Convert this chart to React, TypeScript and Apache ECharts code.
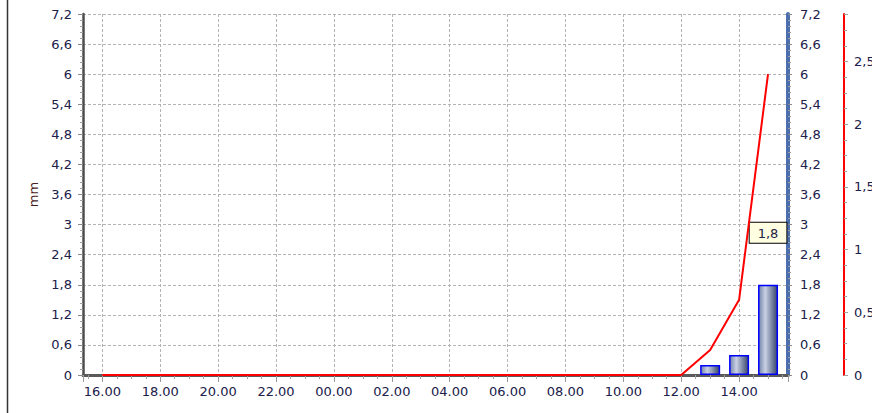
import React, { useEffect, useRef } from "react";
import * as echarts from "echarts";

const hourLabels = [
  "16.00", "17.00", "18.00", "19.00", "20.00", "21.00", "22.00", "23.00",
  "00.00", "01.00", "02.00", "03.00", "04.00", "05.00", "06.00", "07.00",
  "08.00", "09.00", "10.00", "11.00", "12.00", "13.00", "14.00", "15.00",
];
const rainHourly = [0, 0, 0, 0, 0, 0, 0, 0, 0, 0, 0, 0, 0, 0, 0, 0, 0, 0, 0, 0, 0, 0.2, 0.4, 1.8];
const rainCumulative = [0, 0, 0, 0, 0, 0, 0, 0, 0, 0, 0, 0, 0, 0, 0, 0, 0, 0, 0, 0, 0, 0.2, 0.6, 2.4];
const calloutIndex = 23;

const fmtComma = (v: number) => {
  const r = Math.round(v * 100) / 100;
  return String(r).replace(".", ",");
};

const labelColor = "#20204a";
const font = "DejaVu Sans";

export default function App() {
  const ref = useRef<HTMLDivElement>(null);
  useEffect(() => {
    if (!ref.current) return;
    const chart = echarts.init(ref.current, undefined, { renderer: "svg", width: 872, height: 413 });

    const barData = rainHourly
      .map((v, i) => ({ v, i }))
      .filter((d) => d.v > 0)
      .map((d) => ({
        value: [d.i, d.v],
        label:
          d.i === calloutIndex
            ? {
                show: true,
                position: "top",
                distance: 42,
                formatter: () => fmtComma(rainHourly[calloutIndex]),
                backgroundColor: "#ffffe1",
                borderColor: "#000000",
                borderWidth: 1,
                padding: [4, 8, 3, 8],
                color: "#222244",
                fontFamily: font,
                fontSize: 13,
              }
            : { show: false },
      }));

    const lineData = rainCumulative.map((v, i) => [i, v]);

    const splitLine = {
      show: true,
      lineStyle: { color: "#b4b4b4", type: [3, 2], width: 1 },
    };

    chart.setOption({
      animation: false,
      backgroundColor: "#ffffff",
      grid: { left: 83, right: 84, top: 14, bottom: 38, containLabel: false, outerBoundsMode: "none" },
      graphic: [
        {
          type: "line",
          shape: { x1: 7.5, y1: 0, x2: 7.5, y2: 413 },
          style: { stroke: "#333333", lineWidth: 1.5 },
          silent: true,
        },
      ],
      xAxis: {
        type: "value",
        min: -0.67,
        max: 23.69,
        splitNumber: 12,
        axisLine: { show: true, onZero: false, lineStyle: { color: "#5a5a5a", width: 3 } },
        axisTick: { show: true, length: 7, lineStyle: { color: "#9a9a9a" } },
        minorTick: { show: true, splitNumber: 4, length: 4, lineStyle: { color: "#a0a0a0" } },
        axisLabel: {
          showMinLabel: false,
          showMaxLabel: false,
          margin: 10,
          color: labelColor,
          fontFamily: font,
          fontSize: 13,
          formatter: (v: number) => {
            const idx = Math.round(v);
            return Math.abs(v - idx) < 1e-6 ? hourLabels[idx] ?? "" : "";
          },
        },
        splitLine,
      },
      yAxis: [
        {
          type: "value",
          position: "left",
          min: 0,
          max: 7.2,
          interval: 0.6,
          name: "mm",
          nameLocation: "middle",
          nameGap: 43,
          nameRotate: 90,
          nameTextStyle: { color: "#4a1c1c", fontFamily: font, fontSize: 13 },
          axisLine: { show: true, onZero: false, lineStyle: { color: "#4d4d4d", width: 2.5 } },
          axisTick: { show: true, length: 5, lineStyle: { color: "#8a8a8a" } },
          minorTick: { show: true, splitNumber: 5, length: 3, lineStyle: { color: "#a0a0a0" } },
          axisLabel: {
            margin: 11,
            color: labelColor,
            fontFamily: font,
            fontSize: 13,
            formatter: (v: number) => fmtComma(v),
          },
          splitLine,
        },
        {
          type: "value",
          position: "right",
          min: 0,
          max: 7.2,
          interval: 0.6,
          axisLine: { show: true, onZero: false, lineStyle: { color: "#4b6fae", width: 4 } },
          axisTick: { show: true, length: 4, lineStyle: { color: "#8a8a8a" } },
          minorTick: { show: true, splitNumber: 5, length: 3, lineStyle: { color: "#a0a0a0" } },
          axisLabel: {
            margin: 12,
            color: labelColor,
            fontFamily: font,
            fontSize: 13,
            formatter: (v: number) => fmtComma(v),
          },
          splitLine: { show: false },
        },
        {
          type: "value",
          position: "right",
          offset: 56,
          min: 0,
          max: 2.88,
          interval: 0.5,
          axisLine: { show: true, onZero: false, lineStyle: { color: "#ff0000", width: 2 } },
          axisTick: { show: true, length: 4, lineStyle: { color: "#a0a0a0" } },
          minorTick: { show: true, splitNumber: 4, length: 3, lineStyle: { color: "#a0a0a0" } },
          axisLabel: {
            margin: 10,
            showMaxLabel: false,
            color: labelColor,
            fontFamily: font,
            fontSize: 13,
            formatter: (v: number) => (v > 2.6 ? "" : fmtComma(v)),
          },
          splitLine: { show: false },
        },
      ],
      series: [
        {
          type: "bar",
          yAxisIndex: 0,
          barWidth: 20,
          data: barData,
          itemStyle: {
            color: new echarts.graphic.LinearGradient(0, 0, 1, 0, [
              { offset: 0, color: "#7282aa" },
              { offset: 0.35, color: "#c9d1e4" },
              { offset: 1, color: "#37456c" },
            ]),
            borderColor: "#0000ff",
            borderWidth: 1.5,
          },
          z: 3,
        },
        {
          type: "line",
          yAxisIndex: 2,
          data: lineData,
          symbol: "none",
          lineStyle: { color: "#ff0000", width: 2 },
          z: 4,
        },
      ],
    });
    return () => chart.dispose();
  }, []);
  return <div ref={ref} style={{ width: 872, height: 413, position: "absolute", left: 0, top: 0 }} />;
}
